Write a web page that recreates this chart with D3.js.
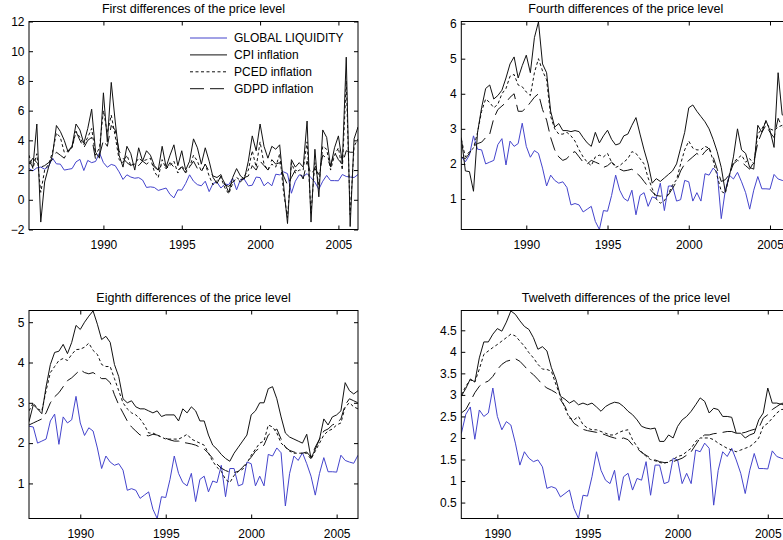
<!DOCTYPE html>
<html>
<head>
<meta charset="utf-8">
<script src="https://cdn.jsdelivr.net/npm/d3@7"></script>
<style>
	body {margin: 0; background: #fff}
	text {font-family: Arial, "Liberation Sans", sans-serif; font-size: 12px; fill: #000}
</style>
</head>
<body>
<svg id="chart"></svg>
<script>
/*
	Data (quarterly, annualised % changes)
*/
const panelTitles = [
	'First differences of the price level',
	'Fourth differences of the price level',
	'Eighth differences of the price level',
	'Twelveth differences of the price level'
]
const legendLabels = ['GLOBAL LIQUIDITY', 'CPI inflation', 'PCED inflation', 'GDPD inflation']
const panelStarts = [1985.25, 1986, 1987, 1988] //first quarter shown in each panel
const lastQuarter = 2006.25
const xTicks = [1990, 1995, 2000, 2005]
const yDomains = [[-2, 12], [0.13, 6.06], [0.13, 5.29], [0.13, 4.96]]
const yTicks = [
	[-2, 0, 2, 4, 6, 8, 10, 12],
	[1, 2, 3, 4, 5, 6],
	[1, 2, 3, 4, 5],
	[0.5, 1, 1.5, 2, 2.5, 3, 3.5, 4, 4.5]
]

//same series in all four panels, starts 1985Q2
const globalLiquidity = [2.1, 1.95, 2.15,
	2.2, 2.06, 2.25, 2.8, 2.42, 2.4, 2.0, 2.05, 2.1, 2.55, 2.72, 1.97, 2.65, 2.5, 2.58, 3.16,
	2.5, 2.19, 2.38, 2.3, 1.88, 1.37, 1.68, 1.53, 1.45, 1.49, 1.33, 0.83, 0.87, 0.83, 0.63, 0.71,
	0.79, 0.36, 0.13, 0.67, 0.65, 1.1, 1.68, 1.25, 1.02, 0.94, 1.25, 0.55, 1.1, 1.18, 0.79, 1.06,
	1.02, 1.45, 0.67, 1.37, 1.37, 0.94, 0.98, 1.53, 1.49, 0.94, 1.18, 0.94, 1.72, 1.68, 1.88, 1.76,
	0.44, 1.25, 1.68, 1.57, 1.76, 1.49, 1.18, 0.71, 1.25, 1.64, 1.29, 1.29, 1.28, 1.7, 1.57, 1.53,
	1.5, 1.7]

//first differences, from 1985Q2
const cpi1 = [2.6, 2.2, 5.1, -1.5, 1.2, 2.2, 3.0, 5.0, 4.6, 4.0, 3.2, 3.6, 5.1, 4.7, 3.8, 4.8, 6.1,
	3.2, 2.8, 7.2, 3.9, 7.9, 5.3, 3.0, 2.2, 3.6, 3.1, 2.0, 3.5, 2.6, 3.3, 3.0, 2.3, 2.0, 3.6, 2.2,
	3.0, 3.7, 2.3, 3.3, 2.0, 2.6, 4.1, 3.5, 2.4, 3.5, 2.6, 1.5, 1.1, 1.6, 1.1, 0.5, 1.5, 2.1, 1.6,
	1.4, 2.6, 4.3, 3.3, 5.1, 3.6, 2.8, 3.6, 3.4, 3.7, 1.0, -1.6, 2.7, 2.2, 2.5, 2.2, 5.3, -1.5, 3.4,
	0.2, 4.7, 4.2, 2.2, 3.5, 4.3, 2.5, 9.6, -1.8, 4.1, 4.9]
const pced1 = [3.0, 2.1, 3.1, 0.5, 2.0, 2.4, 3.2, 4.5, 4.2, 3.2, 3.3, 3.5, 4.6, 4.2, 3.7, 4.2, 4.8,
	3.0, 3.5, 6.0, 4.5, 5.7, 4.3, 2.7, 2.5, 3.0, 2.3, 2.4, 2.8, 2.6, 2.7, 2.8, 1.9, 1.5, 2.7, 2.1,
	2.3, 2.6, 1.8, 2.3, 1.9, 2.2, 3.0, 2.6, 1.9, 2.4, 1.6, 1.0, 1.3, 1.5, 0.8, 0.4, 1.1, 1.5, 1.3,
	1.6, 2.0, 3.3, 2.2, 3.9, 2.4, 2.0, 2.4, 2.2, 3.1, 0.5, -1.2, 2.5, 1.8, 2.0, 2.0, 3.9, -0.9, 2.5,
	1.0, 3.6, 3.4, 2.0, 3.0, 3.5, 2.0, 8.0, -1.0, 3.6, 4.1]
const gdpd1 = [2.4, 2.8, 2.5, 2.2, 2.3, 2.5, 2.7, 3.2, 3.0, 2.8, 3.3, 3.6, 4.6, 4.0, 3.5, 4.0, 4.2,
	2.7, 3.0, 4.0, 3.6, 5.0, 4.7, 3.3, 2.8, 2.5, 2.3, 2.5, 2.3, 2.6, 2.4, 2.6, 2.2, 2.0, 2.4, 2.1,
	2.5, 2.2, 2.0, 2.2, 1.8, 2.2, 2.6, 2.1, 1.9, 2.4, 1.9, 1.6, 1.5, 1.7, 1.0, 0.9, 1.2, 1.4, 1.2,
	1.5, 1.6, 2.3, 2.0, 2.6, 2.3, 2.0, 2.7, 2.4, 2.5, 1.6, 1.0, 1.5, 2.0, 1.9, 1.4, 2.6, 1.7, 2.1,
	1.7, 3.0, 2.8, 2.3, 3.2, 2.7, 2.4, 3.3, 3.2, 3.2, 3.3]

//fourth differences, from 1986Q1
const cpi4 = [2.75, 1.8, 1.78, 1.22, 2.9, 3.6, 4.15, 4.25, 3.85, 3.95, 4.1, 4.45, 4.85, 5.05,
	4.45, 4.8, 5.1, 4.6, 5.6, 6.05, 4.85, 4.6, 3.5, 3.05, 3.15, 2.95, 2.95, 2.92, 2.95, 2.92, 2.75,
	2.6, 2.5, 2.9, 2.6, 2.8, 2.96, 2.7, 2.54, 2.58, 2.8, 2.85, 3.1, 3.32, 2.85, 2.4, 2.0, 1.45,
	1.58, 1.5, 1.6, 1.7, 1.8, 2.0, 2.45, 2.9, 3.6, 3.68, 3.5, 3.35, 3.2, 3.0, 2.7, 2.35, 1.9, 1.2,
	1.65, 2.2, 3.0, 2.4, 2.3, 1.9, 1.85, 3.1, 2.9, 3.24, 2.95, 2.47, 4.6, 3.4, 3.35, 3.3]
const pced4 = [2.7, 2.2, 2.35, 2.45, 2.9, 3.5, 3.85, 3.75, 3.6, 3.7, 4.0, 4.15, 4.5, 4.55, 4.25,
	4.2, 4.05, 3.95, 4.6, 5.0, 4.65, 4.4, 3.35, 3.0, 2.85, 2.85, 2.9, 2.8, 2.65, 2.4, 2.2, 2.05,
	1.95, 2.2, 2.25, 2.2, 2.3, 2.05, 1.9, 1.95, 2.05, 2.15, 2.35, 2.3, 2.15, 2.0, 1.6, 1.3, 1.0,
	0.88, 0.95, 1.15, 1.4, 1.55, 2.0, 2.4, 2.65, 2.45, 2.4, 2.4, 2.5, 2.45, 2.1, 1.65, 1.22, 1.15,
	1.7, 2.05, 2.15, 2.25, 2.05, 2.15, 2.0, 2.85, 3.0, 3.2, 3.0, 2.95, 3.05, 3.1, 3.1, 3.1]
const gdpd4 = [2.2, 2.15, 2.3, 2.5, 2.58, 2.62, 2.75, 2.85, 3.3, 3.55, 3.65, 3.75, 3.9, 4.0, 3.5,
	3.5, 3.6, 3.75, 3.9, 4.0, 3.55, 3.25, 2.75, 2.4, 2.2, 2.1, 2.15, 2.3, 2.35, 2.2, 2.05, 2.0,
	2.1, 2.05, 2.0, 1.9, 1.95, 2.05, 1.95, 1.85, 1.8, 1.82, 1.85, 1.75, 1.65, 1.5, 1.35, 1.2, 1.1,
	1.08, 1.1, 1.12, 1.3, 1.5, 1.8, 2.0, 2.1, 2.2, 2.3, 2.2, 2.35, 2.45, 2.2, 1.85, 1.5, 1.55, 1.7,
	2.0, 2.1, 2.05, 1.95, 1.85, 2.05, 2.6, 2.9, 3.1, 2.9, 2.75, 3.3, 3.05, 3.05, 3.05]

//eighth differences, from 1987Q1
const cpi8 = [2.53, 2.95, 2.85, 2.73, 3.4, 3.95, 4.25, 4.28, 4.45, 4.22, 4.5, 4.92, 4.82, 5.0,
	5.15, 5.28, 4.95, 4.57, 4.65, 4.5, 3.95, 3.65, 3.1, 3.0, 3.05, 2.9, 2.85, 2.85, 2.8, 2.75, 2.8,
	2.66, 2.7, 2.7, 2.7, 2.55, 2.85, 2.75, 2.9, 2.8, 2.55, 2.55, 2.2, 1.95, 1.85, 1.72, 1.62, 1.55,
	1.75, 1.9, 2.05, 2.2, 2.7, 2.8, 3.0, 3.0, 3.35, 3.4, 3.1, 2.65, 2.25, 2.15, 2.1, 2.05, 2.0,
	2.22, 1.62, 1.85, 2.1, 2.6, 2.45, 2.65, 2.7, 2.8, 3.5, 3.3, 3.22, 3.3]
const pced8 = [2.8, 3.0, 2.85, 2.8, 3.3, 3.75, 3.9, 4.05, 4.1, 4.05, 4.2, 4.32, 4.33, 4.38, 4.48,
	4.3, 4.2, 3.95, 3.9, 3.9, 3.6, 3.3, 3.0, 2.85, 2.75, 2.7, 2.6, 2.45, 2.25, 2.25, 2.2, 2.15, 2.1,
	2.1, 2.1, 2.1, 2.15, 2.22, 2.1, 2.05, 2.0, 1.95, 1.75, 1.55, 1.4, 1.3, 1.1, 1.02, 1.2, 1.3,
	1.35, 1.5, 1.7, 1.85, 2.0, 2.05, 2.45, 2.4, 2.25, 2.0, 1.9, 1.8, 1.75, 1.75, 1.75, 1.75, 1.6,
	1.8, 2.0, 2.2, 2.3, 2.35, 2.45, 2.5, 2.9, 3.0, 2.9, 2.85]
const gdpd8 = [2.45, 2.5, 2.55, 2.6, 2.75, 3.0, 3.15, 3.25, 3.4, 3.55, 3.62, 3.72, 3.82, 3.75,
	3.72, 3.75, 3.68, 3.6, 3.6, 3.5, 3.2, 2.95, 2.75, 2.55, 2.4, 2.3, 2.2, 2.2, 2.18, 2.22, 2.2,
	2.15, 2.12, 2.08, 2.05, 2.05, 2.02, 2.0, 1.98, 1.95, 1.9, 1.85, 1.75, 1.62, 1.48, 1.38, 1.32,
	1.28, 1.27, 1.3, 1.4, 1.52, 1.65, 1.8, 1.88, 1.95, 2.2, 2.28, 2.35, 2.1, 1.9, 1.82, 1.78, 1.75,
	1.75, 1.78, 1.65, 1.9, 2.1, 2.3, 2.35, 2.45, 2.5, 2.6, 2.95, 3.1, 3.05, 3.0]

//twelfth differences, from 1988Q1
const cpi12 = [2.97, 3.15, 3.37, 3.3, 3.86, 4.23, 4.23, 4.41, 4.54, 4.48, 4.69, 4.95, 4.87, 4.72,
	4.59, 4.52, 4.33, 4.06, 4.12, 4.02, 3.63, 3.36, 2.97, 2.9, 2.81, 2.87, 2.77, 2.81, 2.77, 2.81,
	2.72, 2.62, 2.73, 2.79, 2.83, 2.81, 2.73, 2.62, 2.54, 2.42, 2.27, 2.23, 2.21, 2.23, 1.92, 1.92,
	2.07, 2.0, 2.27, 2.42, 2.5, 2.62, 2.77, 2.93, 2.85, 2.58, 2.69, 2.66, 2.5, 2.5, 2.48, 2.11,
	2.11, 2.0, 2.07, 2.11, 2.42, 2.58, 3.16, 2.81, 2.81, 2.78, 2.76, 2.75]
const pced12 = [3.0, 3.2, 3.35, 3.3, 3.6, 3.94, 4.02, 4.1, 4.17, 4.25, 4.33, 4.41, 4.37, 4.25,
	4.13, 3.98, 3.86, 3.71, 3.6, 3.59, 3.55, 3.24, 2.97, 2.69, 2.46, 2.42, 2.5, 2.31, 2.23, 2.19,
	2.19, 2.15, 2.11, 2.07, 2.07, 2.13, 2.17, 2.19, 1.96, 1.8, 1.68, 1.57, 1.5, 1.47, 1.43, 1.41,
	1.45, 1.5, 1.57, 1.6, 1.68, 1.76, 1.92, 2.0, 2.0, 2.0, 1.96, 1.88, 1.82, 1.76, 1.72, 1.68, 1.72,
	1.76, 1.8, 1.88, 2.0, 2.27, 2.34, 2.46, 2.58, 2.66, 2.67, 2.65]
const gdpd12 = [2.58, 2.66, 2.85, 3.05, 3.2, 3.28, 3.32, 3.43, 3.59, 3.71, 3.78, 3.81, 3.84, 3.78,
	3.67, 3.55, 3.47, 3.36, 3.24, 3.16, 3.11, 3.05, 2.89, 2.73, 2.5, 2.34, 2.27, 2.2, 2.17, 2.15,
	2.13, 2.11, 2.07, 2.03, 2.0, 1.97, 2.0, 1.96, 1.84, 1.76, 1.66, 1.6, 1.53, 1.49, 1.45, 1.43,
	1.43, 1.45, 1.49, 1.53, 1.6, 1.68, 1.84, 2.0, 2.07, 2.07, 2.1, 2.11, 2.13, 2.15, 2.15, 2.11,
	2.11, 2.13, 2.17, 2.2, 2.23, 2.46, 2.54, 2.66, 2.73, 2.8, 2.82, 2.83]

const cpiSeries = [cpi1, cpi4, cpi8, cpi12]
const pcedSeries = [pced1, pced4, pced8, pced12]
const gdpdSeries = [gdpd1, gdpd4, gdpd8, gdpd12]


/*
	Drawing constants (MATLAB style subplot grid)
*/
const [width, height] = [783, 540]
const panelOrigins = [[29, 21.5], [461.3, 21.5], [29, 310.5], [461.3, 310.5]]
const [axW, axH] = [329, 208]
const tickLen = 4
const lineStyles = [
	{color: '#4444cc', dash: null},
	{color: '#111', dash: null},
	{color: '#111', dash: '3,2.5'},
	{color: '#111', dash: '14,6'}
]

const svg = d3.select('#chart').attr('width', width).attr('height', height)

panelTitles.forEach((title, p) => {
	const [left, top] = panelOrigins[p]
	const g = svg.append('g').attr('transform', `translate(${left},${top})`)

	const x = d3.scaleLinear().domain([panelStarts[p], lastQuarter]).range([0, axW])
	const y = d3.scaleLinear().domain(yDomains[p]).range([axH, 0])

	g.append('clipPath').attr('id', 'clip' + p)
		.append('rect').attr('width', axW).attr('height', axH)

	//liquidity is one long series, cut to the panel's first quarter
	const offset = Math.round((panelStarts[p] - panelStarts[0]) * 4)
	const series = [globalLiquidity.slice(offset), cpiSeries[p], pcedSeries[p], gdpdSeries[p]]

	const line = d3.line()
		.x((d, i) => x(panelStarts[p] + i / 4))
		.y(d => y(d))

	g.append('g').attr('clip-path', `url(#clip${p})`)
		.selectAll('path')
		.data(series)
		.join('path')
		.attr('d', line)
		.attr('fill', 'none')
		.attr('stroke', (d, i) => lineStyles[i].color)
		.attr('stroke-width', 1)
		.attr('stroke-dasharray', (d, i) => lineStyles[i].dash)

	//axes, ticks pointing inward on all four sides
	const fmt = d3.format('~g')
	g.append('g').attr('transform', `translate(0,${axH})`)
		.call(d3.axisBottom(x).tickValues(xTicks).tickFormat(d3.format('d')).tickSizeInner(-tickLen).tickSizeOuter(0).tickPadding(11))
	g.append('g')
		.call(d3.axisTop(x).tickValues(xTicks).tickFormat('').tickSizeInner(-tickLen).tickSizeOuter(0))
	g.append('g')
		.call(d3.axisLeft(y).tickValues(yTicks[p]).tickFormat(fmt).tickSizeInner(-tickLen).tickSizeOuter(0).tickPadding(4.5))
	g.append('g').attr('transform', `translate(${axW},0)`)
		.call(d3.axisRight(y).tickValues(yTicks[p]).tickFormat('').tickSizeInner(-tickLen).tickSizeOuter(0))
	g.selectAll('.domain').remove()
	g.selectAll('.tick line').attr('stroke', '#000')
	g.selectAll('.tick text').attr('font-size', 12).attr('font-family', 'Arial, "Liberation Sans", sans-serif').attr('fill', '#000')

	g.append('rect')
		.attr('width', axW).attr('height', axH)
		.attr('fill', 'none').attr('stroke', '#000').attr('stroke-width', 1)

	g.append('text')
		.attr('x', axW / 2).attr('y', -8.5)
		.attr('text-anchor', 'middle')
		.style('font-size', '12.5px')
		.text(title)

	//legend only on the first panel, no box
	if (p === 0) {
		const legend = g.append('g').attr('transform', 'translate(161,16.5)')
		const rows = legend.selectAll('g')
			.data(legendLabels)
			.join('g')
			.attr('transform', (d, i) => `translate(0,${i * 16.9})`)
		rows.append('line')
			.attr('x1', 0).attr('x2', 37)
			.attr('stroke', (d, i) => lineStyles[i].color)
			.attr('stroke-dasharray', (d, i) => lineStyles[i].dash)
		rows.append('text')
			.attr('x', 44).attr('dy', '0.35em')
			.text(d => d)
	}
})
</script>
</body>
</html>
